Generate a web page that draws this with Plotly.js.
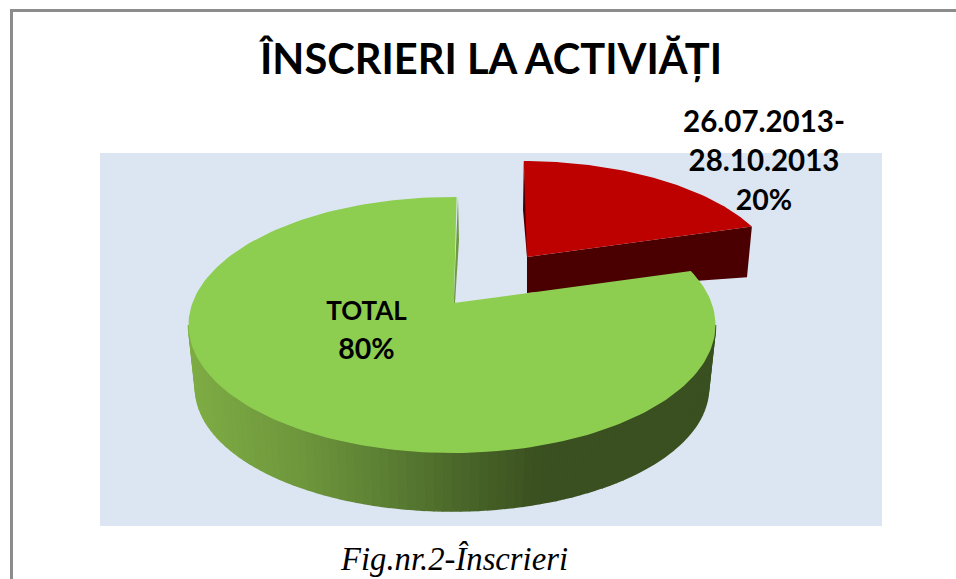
<!DOCTYPE html>
<html><head><meta charset="utf-8">
<script src="https://cdn.plot.ly/plotly-3.0.1.min.js"></script>
<style>html,body{margin:0;padding:0;background:#fff;overflow:hidden}</style>
</head><body><div id="chart" style="width:956px;height:579px"></div>
<script>
const categories = ['26.07.2013-<br>28.10.2013', 'TOTAL'];
const values = [20, 80];
const sliceColors = ['#bd0000', '#8dcd50'];
const labelAt = [[764, 125, 39, 29.5], [366.5, 313, 39, 26]];
const titleText = 'ÎNSCRIERI LA ACTIVIĂȚI';
const captionText = 'Fig.nr.2-Înscrieri';

const total = values.reduce((a, b) => a + b, 0);
const perspectiveShift = 8;
const startDeg = 1;
const splitDeg = startDeg + values[0] / total * 360 - perspectiveShift;
const rad = d => d * Math.PI / 180;
const range = (a, b, n) => Array.from({length: n + 1}, (_, i) => a + (b - a) * i / n);
const onEllipse = (e, d) => [e.cx + e.rx * Math.sin(rad(d)), e.cy - e.ry * Math.cos(rad(d))];

const greenTop = {cx: 452, cy: 325, rx: 263.5, ry: 128};
const greenLow = {cx: 452, cy: 388, rx: 256.5, ry: 123};
const greenApex = [453.8, 303];
const redTop = {cx: 522, cy: 281, rx: 258, ry: 120};
const redLow = {cx: 522, cy: 330, rx: 252.5, ry: 116};
const redApex = [527, 257];
const redApexLow = [527, 293];
const redSplit = splitDeg - 2;

const poly = (pts, fill, lineColor, w) => ({
  type: 'scatter', mode: 'lines', fill: 'toself', fillcolor: fill,
  x: pts.map(p => p[0]), y: pts.map(p => p[1]),
  line: {color: lineColor || fill, width: lineColor ? w : 0},
  hoverinfo: 'skip', showlegend: false
});

const shadeStops = [[190,126,172,68],[300,110,150,60],[380,92,128,52],[470,72,100,40],[540,58,80,32],[720,58,80,32]];
function shade(x) {
  for (let i = 1; i < shadeStops.length; i++) {
    if (x <= shadeStops[i][0]) {
      const a = shadeStops[i-1], b = shadeStops[i], t = Math.max(0, (x - a[0]) / (b[0] - a[0]));
      return 'rgb(' + [1,2,3].map(k => Math.round(a[k] + (b[k] - a[k]) * t)).join(',') + ')';
    }
  }
  return 'rgb(58,80,32)';
}

const traces = [];
traces.push(poly([redApex, onEllipse(redTop, redSplit), onEllipse(redLow, redSplit), redApexLow], '#4a0000'));
traces.push(poly([onEllipse(redTop, 0.4), [523, 210], redApex, redApexLow, [528, 240]], '#4a0000'));
traces.push(poly([redApex].concat(range(0.4, redSplit, 60).map(d => onEllipse(redTop, d))), sliceColors[0]));

const rim = range(90, 270, 90);
for (let i = 0; i < rim.length - 1; i++) {
  const a = rim[i], b = rim[i + 1];
  const p = [onEllipse(greenTop, a), onEllipse(greenTop, b), onEllipse(greenLow, b), onEllipse(greenLow, a)];
  const c = shade((p[0][0] + p[1][0]) / 2);
  traces.push(poly(p, c, c, 1.6));
}
traces.push(poly([[458, 197], [459, 240], [455, 303], greenApex], '#6f9a3f'));
traces.push(poly([greenApex].concat(range(splitDeg, 360 + startDeg, 200).map(d => onEllipse(greenTop, d))), sliceColors[1]));

const lx = [], ly = [], lt = [], ls = [];
categories.forEach((c, i) => {
  const lines = c.split('<br>').concat([values[i] + '%']);
  lines.forEach((t, j) => {
    lx.push(labelAt[i][0]);
    ly.push(labelAt[i][1] + j * labelAt[i][2]);
    lt.push(t);
    ls.push(t.endsWith('%') ? 28.5 : labelAt[i][3]);
  });
});
traces.push({
  type: 'scatter', mode: 'text', cliponaxis: false,
  x: lx, y: ly, text: lt, textposition: 'middle center',
  textfont: {family: 'Lato, Carlito, sans-serif', size: ls, color: '#000', weight: 700},
  hoverinfo: 'skip', showlegend: false
});

const layout = {
  width: 956, height: 579, showlegend: false,
  margin: {l: 0, r: 0, t: 0, b: 0, pad: 0},
  paper_bgcolor: '#ffffff', plot_bgcolor: '#ffffff',
  xaxis: {range: [0, 956], visible: false, fixedrange: true},
  yaxis: {range: [579, 0], visible: false, fixedrange: true},
  title: {text: '<b>' + titleText + '</b>', font: {family: 'Lato, Carlito, sans-serif', size: 41.6, color: '#000'},
          x: 0.5136, xanchor: 'center', y: 0.898, yanchor: 'middle'},
  annotations: [{text: captionText, xref: 'x', yref: 'y', x: 453.5, y: 559, xanchor: 'center', yanchor: 'middle',
    showarrow: false, font: {family: 'Liberation Serif, serif', size: 32.7, color: '#000', style: 'italic'}}],
  shapes: [
    {type: 'rect', xref: 'x', yref: 'y', x0: 100, x1: 882, y0: 153, y1: 526, layer: 'below', fillcolor: '#dce6f2', line: {width: 0}},
    {type: 'line', xref: 'x', yref: 'y', x0: 11.5, x1: 11.5, y0: 9, y1: 579, line: {color: '#8c8c8c', width: 3}},
    {type: 'line', xref: 'x', yref: 'y', x0: 10, x1: 956, y0: 10.5, y1: 10.5, line: {color: '#8c8c8c', width: 3}}
  ]
};
Plotly.newPlot('chart', traces, layout, {displayModeBar: false, staticPlot: true});
</script></body></html>
